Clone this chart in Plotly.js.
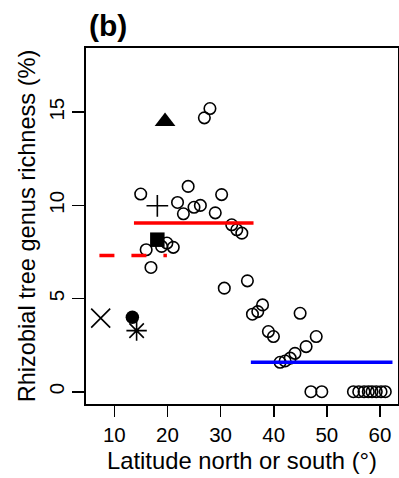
<!DOCTYPE html>
<html>
<head>
<meta charset="utf-8">
<script src="https://cdn.plot.ly/plotly-3.0.1.min.js"></script>
<style>html,body{margin:0;padding:0;background:#fff;}#chart{width:399px;height:478px;}</style>
</head>
<body>
<div id="chart"></div>
<script>
// Open circles: latitude (deg) and rhizobial tree genus richness (%)
const circleLat = [14.97, 21.9, 23.9, 23.0, 25.0, 26.2, 29.0, 30.2, 32.1, 33.05, 34.0,
  30.7, 35.05, 36.0, 37.0, 37.9, 39.0, 39.95, 41.2, 42.15, 43.1, 44.0, 44.97, 46.1, 48.0,
  47.0, 49.05, 55.0, 56.0, 57.0, 57.8, 58.5, 59.3, 60.2, 61.0,
  26.95, 28.0, 16.0, 18.9, 19.9, 21.1, 16.9];
const circleRich = [10.61, 10.16, 11.02, 9.55, 9.9, 10.0, 9.6, 10.58, 8.96, 8.69, 8.51,
  5.56, 5.95, 4.16, 4.3, 4.66, 3.23, 2.96, 1.58, 1.65, 1.8, 2.06, 4.21, 2.42, 2.96,
  0, 0, 0, 0, 0, 0, 0, 0, 0, 0,
  14.7, 15.2, 7.62, 7.8, 7.98, 7.75, 6.67];

// Special symbols
const triLat = [19.55], triRich = [14.5];
const plusLat = [18.1], plusRich = [9.98];
const squareLat = [18.1], squareRich = [8.16];
const dotLat = [13.4], dotRich = [4.0];
const crossLat = [7.44], crossRich = [3.95];
const starLat = [14.2], starRich = [3.28];

// Mean lines
const redSolidLat = [13.7, 36.2], redSolidRich = [9.05, 9.05];
const redDashLat = [7.2, 19.9], redDashRich = [7.31, 7.31];
const blueLat = [35.7, 62.35], blueRich = [1.58, 1.58];

const xTicks = [10, 20, 30, 40, 50, 60];
const yTicks = [0, 5, 10, 15];

const FONT = 'Liberation Sans, Arial, Helvetica, sans-serif';

const traces = [
  {x: circleLat, y: circleRich, mode: 'markers', type: 'scatter',
   marker: {symbol: 'circle-open', size: 11.5, color: '#000', line: {width: 1.6, color: '#000'}}},
  {x: triLat, y: triRich, mode: 'markers', type: 'scatter',
   marker: {symbol: 'triangle-up', size: 18, color: '#000', line: {width: 0}}},
  {x: plusLat, y: plusRich, mode: 'markers', type: 'scatter',
   marker: {symbol: 'cross-thin-open', size: 15.5, color: '#000', line: {width: 1.6, color: '#000'}}},
  {x: squareLat, y: squareRich, mode: 'markers', type: 'scatter',
   marker: {symbol: 'square', size: 14.5, color: '#000', line: {width: 0}}},
  {x: dotLat, y: dotRich, mode: 'markers', type: 'scatter',
   marker: {symbol: 'circle', size: 13.5, color: '#000', line: {width: 0}}},
  {x: crossLat, y: crossRich, mode: 'markers', type: 'scatter',
   marker: {symbol: 'x-thin-open', size: 19, color: '#000', line: {width: 1.6, color: '#000'}}},
  {x: starLat, y: starRich, mode: 'markers', type: 'scatter',
   marker: {symbol: 'asterisk-open', size: 17, color: '#000', line: {width: 1.6, color: '#000'}}},
  {x: redSolidLat, y: redSolidRich, mode: 'lines', type: 'scatter',
   line: {color: '#ff0000', width: 3.5}},
  {x: redDashLat, y: redDashRich, mode: 'lines', type: 'scatter',
   line: {color: '#ff0000', width: 3.5, dash: '15px,17px'}},
  {x: blueLat, y: blueRich, mode: 'lines', type: 'scatter',
   line: {color: '#0000ff', width: 3.5}}
];

const layout = {
  width: 399, height: 478,
  margin: {l: 86, r: 1, t: 48, b: 74, pad: 0},
  paper_bgcolor: '#fff', plot_bgcolor: '#fff',
  showlegend: false,
  font: {family: FONT, color: '#000', size: 20},
  title: {text: '<b>(b)</b>', font: {family: FONT, size: 30, color: '#000'},
          xref: 'container', yref: 'container', x: 89/399, xanchor: 'left',
          y: 1 - 25/478, yanchor: 'middle'},
  xaxis: {
    range: [4.675, 63.39], tickvals: xTicks, ticktext: xTicks.map(String),
    ticks: 'outside', ticklen: 11, tickwidth: 1.6, tickcolor: '#000',
    showline: true, mirror: true, linewidth: 2, linecolor: '#000',
    showgrid: false, zeroline: false,
    tickfont: {family: FONT, size: 20.5, color: '#000'},
    title: {text: 'Latitude north or south (°)', font: {family: FONT, size: 23.8, color: '#000'}, standoff: 8}
  },
  yaxis: {
    range: [-0.66, 18.45], tickvals: yTicks, ticktext: yTicks.map(String),
    ticks: 'outside', ticklen: 12, tickwidth: 1.6, tickcolor: '#000', tickangle: -90,
    showline: true, mirror: true, linewidth: 2, linecolor: '#000',
    showgrid: false, zeroline: false,
    tickfont: {family: FONT, size: 20.5, color: '#000'},
    title: {text: 'Rhizobial tree genus richness (%)', font: {family: FONT, size: 23.6, color: '#000'}, standoff: 3}
  }
};

Plotly.newPlot('chart', traces, layout, {staticPlot: true, displayModeBar: false});
</script>
</body>
</html>
